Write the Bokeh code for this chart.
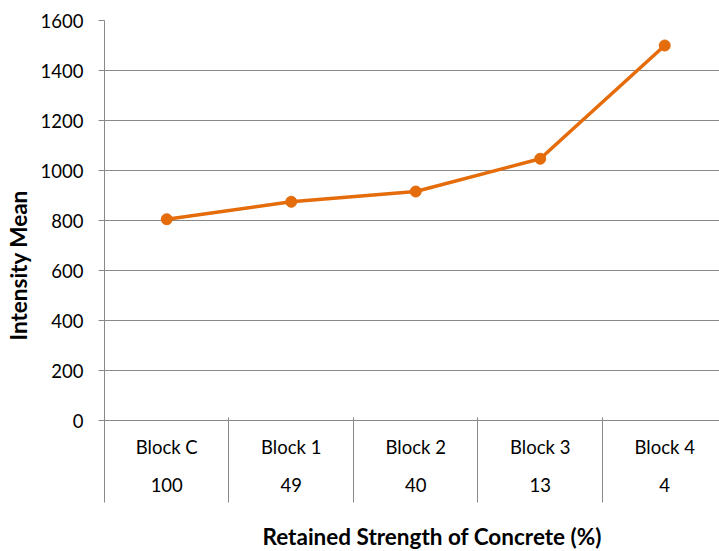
from bokeh.plotting import figure
from bokeh.models import (Range1d, LinearAxis, FixedTicker, Title, Grid,
                          ColumnDataSource, CustomJSTickFormatter)
from bokeh.embed import file_html
from bokeh.resources import INLINE

# ---- data ----
categories = ["Block C", "Block 1", "Block 2", "Block 3", "Block 4"]
strength_labels = ["100", "49", "40", "13", "4"]
intensity_mean = [805, 875, 916, 1047, 1500]
y_ticks = [0, 200, 400, 600, 800, 1000, 1200, 1400, 1600]

x_title = "Retained Strength of Concrete (%)"
y_title = "Intensity Mean"

FONT = "Lato"
GRID = "#898989"
ORANGE = "#E46C0A"
TICK_SIZE = "18.5px"

xs = list(range(len(categories)))
src = ColumnDataSource(dict(x=xs, y=intensity_mean, cat=categories))

p = figure(width=719, height=551, output_backend="svg", toolbar_location=None,
           x_range=Range1d(-0.5, 4.44), y_range=Range1d(0, 1600),
           min_border_left=103, min_border_right=0, min_border_top=20,
           min_border_bottom=131, x_axis_type=None, y_axis_type=None,
           outline_line_color=None)

# y axis
ya = LinearAxis(ticker=FixedTicker(ticks=y_ticks))
ya.axis_line_color = GRID
ya.major_tick_line_color = GRID
ya.major_tick_out = 6
ya.major_tick_in = 0
ya.minor_tick_line_color = None
ya.major_label_standoff = 15
ya.major_label_text_font = FONT
ya.major_label_text_font_size = TICK_SIZE
ya.major_label_text_color = "#000000"
p.add_layout(ya, "left")
p.add_layout(Grid(dimension=1, ticker=FixedTicker(ticks=y_ticks),
                  grid_line_color=GRID, grid_line_width=1))

n = len(categories)
bounds = [i - 0.5 for i in range(n + 1)]

# x axis row 1: block names
xa1 = LinearAxis(ticker=FixedTicker(ticks=xs),
                 major_label_overrides={i: c for i, c in enumerate(categories)})
xa1.axis_line_color = GRID
xa1.major_tick_line_color = None
xa1.minor_tick_line_color = None
xa1.major_tick_out = 0
xa1.major_tick_in = 0
xa1.minor_tick_out = 0
xa1.major_label_standoff = 15
xa1.major_label_text_font = FONT
xa1.major_label_text_font_size = TICK_SIZE
xa1.major_label_text_color = "#000000"
p.add_layout(xa1, "below")

# x axis row 2: retained strength values
xa2 = LinearAxis(ticker=FixedTicker(ticks=xs),
                 major_label_overrides={i: s for i, s in enumerate(strength_labels)})
xa2.axis_line_color = None
xa2.major_tick_line_color = None
xa2.minor_tick_line_color = None
xa2.major_tick_out = 0
xa2.major_tick_in = 0
xa2.minor_tick_out = 0
xa2.major_label_standoff = 17
xa2.major_label_text_font = FONT
xa2.major_label_text_font_size = TICK_SIZE
xa2.major_label_text_color = "#000000"
p.add_layout(xa2, "below")

# category separators (ticks at category boundaries reaching up to the plot)
xa3 = LinearAxis(ticker=FixedTicker(ticks=bounds),
                 formatter=CustomJSTickFormatter(code="return ''"))
xa3.axis_line_color = None
xa3.major_tick_line_color = GRID
xa3.major_tick_out = 8
xa3.major_tick_in = 77
xa3.minor_tick_line_color = None
xa3.minor_tick_out = 0
xa3.major_label_standoff = 0
xa3.major_label_text_font_size = "0px"
xa3.major_label_text_color = None
p.add_layout(xa3, "below")

# axis titles
xt = Title(text=x_title, align="left", offset=158, vertical_align="top",
           standoff=0, text_font=FONT, text_font_style="bold",
           text_font_size="22.5px", text_color="#000000")
xt.padding = dict(top=20, bottom=0, left=0, right=0)
p.add_layout(xt, "below")
p.add_layout(Title(text=y_title, align="left", offset=80, vertical_align="top",
                   standoff=8, text_font=FONT, text_font_style="bold",
                   text_font_size="22.5px", text_color="#000000"), "left")

# series
p.line("x", "y", source=src, line_color=ORANGE, line_width=3.5)
p.scatter("x", "y", source=src, size=11, fill_color=ORANGE, line_color=ORANGE)

open("out.html", "w").write(file_html(p, INLINE))
